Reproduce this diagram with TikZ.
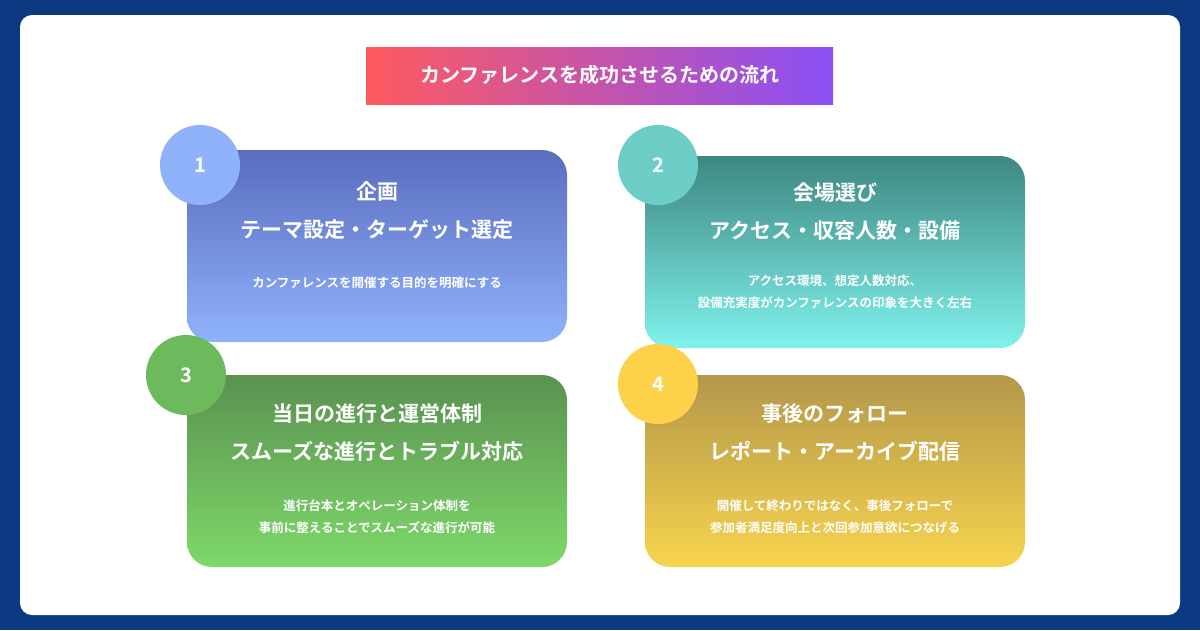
\documentclass[tikz,border=0pt]{standalone}
\usepackage{fontspec}
\setmainfont{Noto Sans CJK JP}[BoldFont={Noto Sans CJK JP Bold}]
\usetikzlibrary{positioning}
\definecolor{navy}{HTML}{0B3A82}
\definecolor{tred}{HTML}{FF5A5F}
\definecolor{tpurple}{HTML}{8A4FF5}
\definecolor{bluetop}{HTML}{5A6CBE}
\definecolor{bluebot}{HTML}{8FB2FB}
\definecolor{tealtop}{HTML}{3E8781}
\definecolor{tealbot}{HTML}{80F2EC}
\definecolor{greentop}{HTML}{5A9150}
\definecolor{greenbot}{HTML}{7ED96A}
\definecolor{goldtop}{HTML}{B4974A}
\definecolor{goldbot}{HTML}{F7D44E}
\definecolor{cblue}{HTML}{8FB2FB}
\definecolor{cteal}{HTML}{6DCEC8}
\definecolor{cgreen}{HTML}{6CBA5C}
\definecolor{cgold}{HTML}{FDD24A}
\tikzset{
  card/.style 2 args={rounded corners=25pt, minimum width=380pt, minimum height=192pt,
    top color=#1, bottom color=#2, inner sep=0pt},
  badge/.style={circle, fill=#1, minimum size=80pt, inner sep=0pt, text=white,
    font=\bfseries\fontsize{20}{20}\selectfont},
  head/.style={text=white, align=center, font=\bfseries\fontsize{21}{38}\selectfont},
  body/.style={text=white, align=center, font=\bfseries\fontsize{12.5}{22}\selectfont},
}
\begin{document}
\begin{tikzpicture}[x=1pt,y=-1pt]
\fill[navy] (0,0) rectangle (1200,630);
\useasboundingbox (0,0) rectangle (1200,630);
\fill[white, rounded corners=12pt] (20,15) rectangle (1180,615);
% title
\shade[left color=tred, right color=tpurple] (366,47) rectangle (833,104);
\node[text=white, font=\bfseries\fontsize{20}{20}\selectfont] (title) at (600,75) {カンファレンスを成功させるための流れ};
% cards
\node[card={bluetop}{bluebot}] (c1) at (377,246) {};
\node[card={tealtop}{tealbot}] (c2) at (835,252) {};
\node[card={greentop}{greenbot}] (c3) at (377,471) {};
\node[card={goldtop}{goldbot}] (c4) at (835,471) {};
\node[badge=cblue] (n1) at (200,165) {1};
\node[badge=cteal] (n2) at (658,165) {2};
\node[badge=cgreen] (n3) at (186,375) {3};
\node[badge=cgold] (n4) at (658,384) {4};
% texts
\node[head] at (377,211) {企画\\テーマ設定・ターゲット選定};
\node[body] at (377,283) {カンファレンスを開催する目的を明確にする};
\node[head] at (835,212) {会場選び\\アクセス・収容人数・設備};
\node[body] at (835,292) {アクセス環境、想定人数対応、\\設備充実度がカンファレンスの印象を大きく左右};
\node[head] at (377,432) {当日の進行と運営体制\\スムーズな進行とトラブル対応};
\node[body] at (377,517) {進行台本とオペレーション体制を\\事前に整えることでスムーズな進行が可能};
\node[head] at (835,432) {事後のフォロー\\レポート・アーカイブ配信};
\node[body] at (835,517) {開催して終わりではなく、事後フォローで\\参加者満足度向上と次回参加意欲につなげる};
\end{tikzpicture}
\end{document}
